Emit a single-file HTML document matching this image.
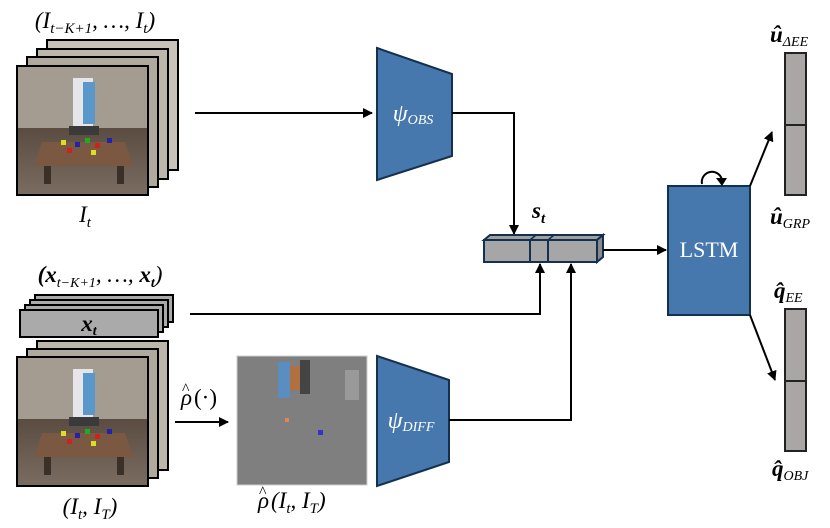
<!DOCTYPE html>
<html><head><meta charset="utf-8"><style>
html,body{margin:0;padding:0;background:#fff;}
svg{display:block;}
text{font-family:"Liberation Serif",serif;fill:#000;}
</style></head><body>
<svg width="830" height="528" viewBox="0 0 830 528" xmlns="http://www.w3.org/2000/svg">
<defs>
<marker id="ah" markerWidth="10" markerHeight="10" refX="9" refY="5" orient="auto" markerUnits="userSpaceOnUse" viewBox="0 0 10 10">
<path d="M0,0 L10,5 L0,10 z" fill="#000"/></marker>
<linearGradient id="floor" x1="0" y1="0" x2="0" y2="1"><stop offset="0" stop-color="#5a4c40"/><stop offset="1" stop-color="#7a6c60"/></linearGradient>
<g id="scene">
<rect x="0" y="0" width="131" height="129" fill="#9a9288"/>
<rect x="0" y="0" width="131" height="62" fill="#a49c90"/>
<rect x="0" y="62" width="131" height="67" fill="url(#floor)"/>
<polygon points="25,76 108,76 116,100 17,100" fill="#7a5842"/>
<rect x="27" y="100" width="7" height="18" fill="#3a3028"/>
<rect x="100" y="100" width="7" height="18" fill="#3a3028"/>
<rect x="56" y="12" width="20" height="50" fill="#e6e6ea"/>
<rect x="66" y="16" width="12" height="42" fill="#5a98cc"/>
<rect x="52" y="60" width="30" height="9" fill="#3a3a3a"/>
<rect x="44" y="74" width="5" height="5" fill="#dd2"/>
<rect x="58" y="76" width="5" height="5" fill="#22a"/>
<rect x="68" y="72" width="5" height="5" fill="#2a2"/>
<rect x="78" y="77" width="5" height="5" fill="#c22"/>
<rect x="90" y="72" width="5" height="5" fill="#22a"/>
<rect x="50" y="82" width="5" height="5" fill="#c22"/>
<rect x="74" y="84" width="5" height="5" fill="#dd2"/>
</g>
</defs>

<!-- top image stack -->
<text x="95" y="28" font-size="23" font-style="italic" text-anchor="middle">(I<tspan font-size="15" dy="5">t−K+1</tspan><tspan dy="-5">, …, I</tspan><tspan font-size="15" dy="5">t</tspan><tspan dy="-5">)</tspan></text>
<rect x="47" y="40" width="131" height="130" fill="#c8c2b8" stroke="#000" stroke-width="2"/>
<rect x="37" y="49" width="131" height="130" fill="#bdb6ab" stroke="#000" stroke-width="2"/>
<rect x="27" y="57" width="131" height="130" fill="#b0a99e" stroke="#000" stroke-width="2"/>
<use href="#scene" x="17" y="66"/>
<rect x="17" y="66" width="131" height="129" fill="none" stroke="#000" stroke-width="2"/>
<text x="85" y="222" font-size="23" font-style="italic" text-anchor="middle">I<tspan font-size="15" dy="5">t</tspan></text>

<!-- x stack -->
<text x="100" y="282" font-size="23" font-style="italic" font-weight="bold" text-anchor="middle">(x<tspan font-size="14" font-weight="normal" dy="5">t−K+1</tspan><tspan dy="-5" font-weight="normal">, …, </tspan>x<tspan font-size="14" dy="5">t</tspan><tspan dy="-5" font-weight="normal">)</tspan></text>
<rect x="35" y="295" width="138" height="27" fill="#aaa" stroke="#000" stroke-width="2"/>
<rect x="30" y="300" width="138" height="27" fill="#aaa" stroke="#000" stroke-width="2"/>
<rect x="25" y="305" width="138" height="27" fill="#aaa" stroke="#000" stroke-width="2"/>
<rect x="20" y="310" width="138" height="27" fill="#aaa" stroke="#000" stroke-width="2"/>
<text x="89" y="331" font-size="23" font-style="italic" font-weight="bold" text-anchor="middle">x<tspan font-size="14" dy="4">t</tspan></text>

<!-- bottom image stack -->
<rect x="37" y="341" width="131" height="129" fill="#bdb6ab" stroke="#000" stroke-width="2"/>
<rect x="27" y="349" width="131" height="129" fill="#b0a99e" stroke="#000" stroke-width="2"/>
<use href="#scene" x="17" y="357"/>
<rect x="17" y="357" width="131" height="129" fill="none" stroke="#000" stroke-width="2"/>
<text x="90" y="514" font-size="23" font-style="italic" text-anchor="middle">(I<tspan font-size="15" dy="5">t</tspan><tspan dy="-5">, I</tspan><tspan font-size="15" dy="5">T</tspan><tspan dy="-5">)</tspan></text>

<!-- rho -->
<text x="181" y="405" font-size="23" font-style="italic">ρ</text>
<text x="182" y="394" font-size="16">^</text>
<text x="194" y="405" font-size="23">(·)</text>
<line x1="175" y1="422" x2="228" y2="422" stroke="#000" stroke-width="2" marker-end="url(#ah)"/>
<rect x="237" y="356" width="130" height="129" fill="#7f7f7f" stroke="#ccc" stroke-width="1"/>
<rect x="278" y="362" width="12" height="36" fill="#5a8ec0"/>
<rect x="290" y="366" width="14" height="24" fill="#b07040"/>
<rect x="300" y="360" width="10" height="34" fill="#444"/>
<rect x="345" y="370" width="14" height="30" fill="#999"/>
<rect x="285" y="418" width="4" height="4" fill="#d85"/>
<rect x="318" y="430" width="5" height="5" fill="#33c"/>
<text x="258" y="508" font-size="23" font-style="italic">ρ</text>
<text x="259" y="497" font-size="16">^</text>
<text x="271" y="508" font-size="23" font-style="italic">(I<tspan font-size="15" dy="5">t</tspan><tspan dy="-5">, I</tspan><tspan font-size="15" dy="5">T</tspan><tspan dy="-5">)</tspan></text>

<!-- encoders -->
<polygon points="377,48 452,74 452,156 377,180" fill="#4677ad" stroke="#14304f" stroke-width="2"/>
<text x="413" y="121" font-size="24" font-style="italic" text-anchor="middle" style="fill:#fff">ψ<tspan font-size="14" dy="3">OBS</tspan></text>
<polygon points="377,356 449,380 449,462 377,486" fill="#4677ad" stroke="#14304f" stroke-width="2"/>
<text x="411" y="428" font-size="24" font-style="italic" text-anchor="middle" style="fill:#fff">ψ<tspan font-size="14" dy="3">DIFF</tspan></text>

<!-- connectors -->
<line x1="195" y1="113" x2="372" y2="113" stroke="#000" stroke-width="2" marker-end="url(#ah)"/>
<polyline points="452,113 514,113 514,234" fill="none" stroke="#000" stroke-width="2" marker-end="url(#ah)"/>
<polyline points="190,314 540,314 540,264" fill="none" stroke="#000" stroke-width="2" marker-end="url(#ah)"/>
<polyline points="449,420 571,420 571,264" fill="none" stroke="#000" stroke-width="2" marker-end="url(#ah)"/>

<!-- state vector -->
<text x="532" y="218" font-size="23" font-style="italic" font-weight="bold">s<tspan font-size="15" dy="5">t</tspan></text>
<polygon points="484,240 490,235 603,235 597,240" fill="#a0a0a0" stroke="#14304f" stroke-width="2"/>
<polygon points="597,240 603,235 603,257 597,262" fill="#8a8a8a" stroke="#14304f" stroke-width="2"/>
<rect x="484" y="240" width="113" height="22" fill="#a6a6a6" stroke="#14304f" stroke-width="2"/>
<line x1="530" y1="240" x2="530" y2="262" stroke="#14304f" stroke-width="2"/>
<line x1="548" y1="240" x2="548" y2="262" stroke="#14304f" stroke-width="2"/>
<line x1="530" y1="240" x2="536" y2="235" stroke="#14304f" stroke-width="1.5"/>
<line x1="548" y1="240" x2="554" y2="235" stroke="#14304f" stroke-width="1.5"/>
<line x1="603" y1="250" x2="666" y2="250" stroke="#000" stroke-width="2" marker-end="url(#ah)"/>

<!-- LSTM -->
<rect x="668" y="186" width="82" height="129" fill="#4677ad" stroke="#14304f" stroke-width="2"/>
<text x="709" y="257" font-size="22" text-anchor="middle" style="fill:#fff">LSTM</text>
<path d="M702,184 A10,10 0 1 1 722,180" fill="none" stroke="#000" stroke-width="2"/>
<path d="M716,178 L727,178 L722,186 z" fill="#000"/>

<!-- outputs -->
<line x1="750" y1="186" x2="772" y2="132" stroke="#000" stroke-width="2" marker-end="url(#ah)"/>
<line x1="750" y1="315" x2="775" y2="380" stroke="#000" stroke-width="2" marker-end="url(#ah)"/>
<rect x="785" y="53" width="21" height="142" fill="#aaa6a6" stroke="#222" stroke-width="2"/>
<line x1="785" y1="125" x2="806" y2="125" stroke="#222" stroke-width="2"/>
<rect x="785" y="309" width="21" height="142" fill="#aaa6a6" stroke="#222" stroke-width="2"/>
<line x1="785" y1="381" x2="806" y2="381" stroke="#222" stroke-width="2"/>
<text x="770" y="42" font-size="23" font-style="italic" font-weight="bold">û<tspan font-size="14" font-weight="normal" dy="4">ΔEE</tspan></text>
<text x="770" y="224" font-size="23" font-style="italic" font-weight="bold">û<tspan font-size="14" font-weight="normal" dy="4">GRP</tspan></text>
<text x="774" y="298" font-size="23" font-style="italic" font-weight="bold">q̂<tspan font-size="14" font-weight="normal" dy="4">EE</tspan></text>
<text x="772" y="476" font-size="23" font-style="italic" font-weight="bold">q̂<tspan font-size="14" font-weight="normal" dy="4">OBJ</tspan></text>
</svg>
</body></html>
